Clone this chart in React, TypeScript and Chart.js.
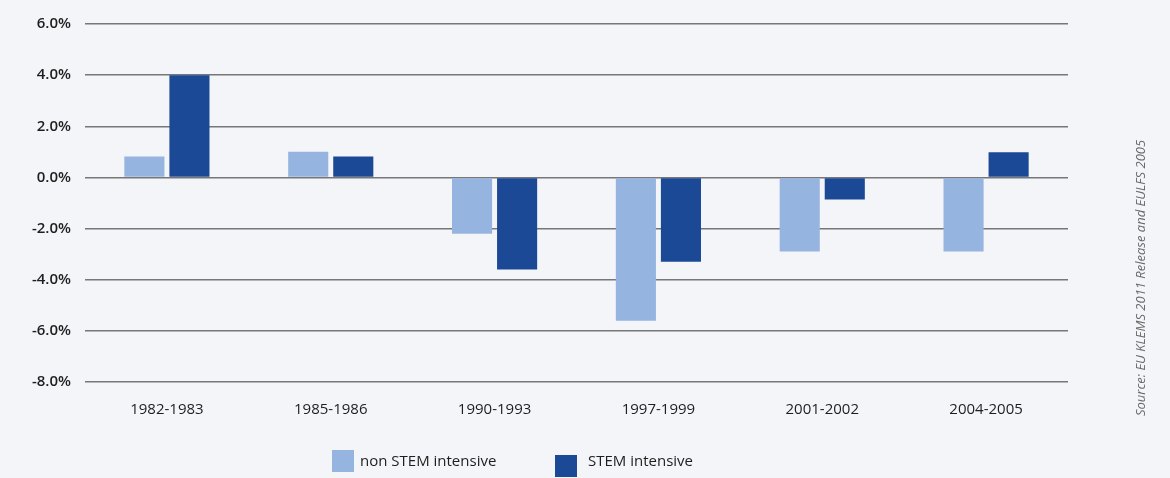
import React, { useEffect, useRef } from "react";
import { Chart, registerables } from "chart.js";

Chart.register(...registerables);

const categories = ["1982-1983", "1985-1986", "1990-1993", "1997-1999", "2001-2002", "2004-2005"];
const nonStem = [0.82, 1.0, -2.2, -5.6, -2.9, -2.9];
const stem = [4.0, 0.82, -3.6, -3.3, -0.86, 0.98];
const yTicks = [-8, -6, -4, -2, 0, 2, 4, 6];
const legendLabels = ["non STEM intensive", "STEM intensive"];
const sourceText = "Source: EU KLEMS 2011 Release and EULFS 2005";

const LIGHT = "#96b4e0";
const DARK = "#1b4996";
const BG = "#f4f5f9";

export default function App() {
  const ref = useRef<HTMLCanvasElement | null>(null);

  useEffect(() => {
    document.body.style.margin = "0";
    document.body.style.background = BG;
    const sourcePlugin = {
      id: "sourceText",
      afterDraw(chart: any) {
        const ctx = chart.ctx;
        ctx.save();
        ctx.translate(1141, 278);
        ctx.rotate(-Math.PI / 2);
        ctx.font = "italic 13px 'Open Sans'";
        ctx.fillStyle = "#6a6a6a";
        ctx.textAlign = "center";
        ctx.textBaseline = "middle";
        ctx.fillText(sourceText, 0, 0);
        ctx.restore();
      },
    };
    const chart = new Chart(ref.current!, {
      type: "bar",
      data: {
        labels: categories,
        datasets: [
          {
            label: legendLabels[0],
            data: nonStem,
            backgroundColor: LIGHT,
            categoryPercentage: 0.55,
            barPercentage: 0.89,
          },
          {
            label: legendLabels[1],
            data: stem,
            backgroundColor: DARK,
            categoryPercentage: 0.55,
            barPercentage: 0.89,
          },
        ],
      },
      options: {
        animation: false,
        responsive: false,
        maintainAspectRatio: false,
        layout: { padding: { left: 0, right: 102, top: 24, bottom: 46 } },
        plugins: {
          legend: { display: false },
          tooltip: { enabled: false },
        },
        scales: {
          x: {
            grid: { display: false, drawTicks: false },
            border: { display: false },
            ticks: {
              color: "#1e1e1e",
              font: { family: "'Open Sans'", size: 15 },
              padding: 19,
              maxRotation: 0,
            },
            afterFit: (s: any) => {
              s.height = 50;
            },
          },
          y: {
            min: yTicks[0],
            max: yTicks[yTicks.length - 1],
            afterBuildTicks: (s: any) => {
              s.ticks = yTicks.map((v) => ({ value: v }));
            },
            grid: {
              color: "#777",
              lineWidth: 1.5,
              drawTicks: false,
            },
            border: { display: false },
            ticks: {
              color: "#1e1e1e",
              font: { family: "'Open Sans'", size: 15, weight: "600" },
              padding: 14,
              callback: (v: any) => Number(v).toFixed(1) + "%",
            },
            afterFit: (s: any) => {
              s.width = 85;
            },
          },
        },
      },
      plugins: [sourcePlugin],
    });
    return () => chart.destroy();
  }, []);

  const item = (color: string, label: string, left: number, top: number, textLeft: number) => (
    <>
      <div style={{ position: "absolute", left, top, width: 22, height: 22, background: color }} />
      <div
        style={{
          position: "absolute",
          left: textLeft,
          top: 450,
          fontFamily: "'Open Sans'",
          fontSize: 15,
          color: "#1e1e1e",
          lineHeight: "21px",
          whiteSpace: "nowrap",
        }}
      >
        {label}
      </div>
    </>
  );

  return (
    <div style={{ position: "absolute", left: 0, top: 0, width: 1170, height: 478, background: BG }}>
      <canvas ref={ref} width={1170} height={478} style={{ display: "block" }} />
      {item(LIGHT, legendLabels[0], 332, 450, 360)}
      {item(DARK, legendLabels[1], 555, 455, 588)}
    </div>
  );
}
